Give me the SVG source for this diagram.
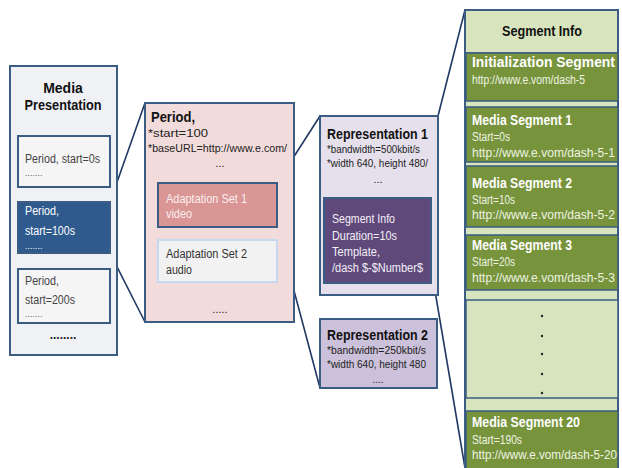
<svg xmlns="http://www.w3.org/2000/svg" width="622" height="468" viewBox="0 0 622 468">
  <style>
    .box { stroke: #3b5d84; stroke-width: 2; }
    .t { font-family: "Liberation Sans", Arial, sans-serif; }
    .b { font-family: "Liberation Sans", Arial, sans-serif; font-weight: bold; }
    .wire { stroke: #203864; stroke-width: 1.6; fill: none; }
    .seg { fill: #77933c; stroke: #3b5d84; stroke-width: 1.5; }
    .segT { font-family: "Liberation Sans", Arial, sans-serif; font-weight: bold; font-size: 14px; fill: #ffffff; }
    .segS { font-family: "Liberation Sans", Arial, sans-serif; font-size: 12.5px; fill: #eef3e2; }
  </style>
  <rect width="622" height="468" fill="#ffffff"/>

  <!-- connectors zooming from one level into the next -->
  <g id="connectors">
    <line class="wire" x1="110" y1="202" x2="145" y2="103"/>
    <line class="wire" x1="110" y1="253" x2="145" y2="322"/>
    <line class="wire" x1="277" y1="183" x2="320" y2="116"/>
    <line class="wire" x1="277" y1="227" x2="320" y2="388"/>
    <line class="wire" x1="438" y1="116" x2="465" y2="10"/>
    <line class="wire" x1="435" y1="291" x2="465" y2="468"/>
  </g>

  <!-- Media Presentation -->
  <g id="media-presentation">
    <rect class="box" x="10" y="66" width="107" height="289" fill="#f0f1f5"/>
    <text class="b" x="63" y="93" font-size="14" text-anchor="middle" fill="#111">Media</text>
    <text class="b" x="63" y="110" font-size="14" text-anchor="middle" fill="#111" textLength="77" lengthAdjust="spacingAndGlyphs">Presentation</text>
    <text class="b" x="63" y="339" font-size="12" text-anchor="middle" fill="#222">........</text>
  </g>
  <g id="period-0">
    <rect class="box" x="18" y="136" width="92" height="51" fill="#f5f5f6"/>
    <text class="t" x="25" y="163" font-size="12" fill="#444" textLength="75" lengthAdjust="spacingAndGlyphs">Period, start=0s</text>
    <text class="t" x="25" y="176" font-size="9" fill="#555">.......</text>
  </g>
  <g id="period-100">
    <rect class="box" x="18" y="202" width="92" height="51" fill="#2e5a8e"/>
    <text class="t" x="25" y="215" font-size="12" fill="#ffffff" textLength="34" lengthAdjust="spacingAndGlyphs">Period,</text>
    <text class="t" x="25" y="235" font-size="12" fill="#ffffff" textLength="50" lengthAdjust="spacingAndGlyphs">start=100s</text>
    <text class="t" x="25" y="249" font-size="9" fill="#ffffff">.......</text>
  </g>
  <g id="period-200">
    <rect class="box" x="18" y="269" width="92" height="54" fill="#f5f5f6"/>
    <text class="t" x="25" y="285" font-size="12" fill="#444" textLength="34" lengthAdjust="spacingAndGlyphs">Period,</text>
    <text class="t" x="25" y="304" font-size="12" fill="#444" textLength="50" lengthAdjust="spacingAndGlyphs">start=200s</text>
    <text class="t" x="25" y="317" font-size="9" fill="#555">.......</text>
  </g>

  <!-- Period detail -->
  <g id="period">
    <rect class="box" x="145" y="103" width="149" height="219" fill="#f2dcdb"/>
    <text class="b" x="151" y="122" font-size="15" fill="#111" textLength="44" lengthAdjust="spacingAndGlyphs">Period,</text>
    <text class="t" x="148" y="137" font-size="10.5" fill="#222" textLength="60" lengthAdjust="spacingAndGlyphs">*start=100</text>
    <text class="t" x="148" y="152" font-size="10.5" fill="#222" textLength="139" lengthAdjust="spacingAndGlyphs">*baseURL=http://www.e.com/</text>
    <text class="t" x="220" y="167" font-size="11" text-anchor="middle" fill="#222">...</text>
    <text class="t" x="220" y="313" font-size="11" text-anchor="middle" fill="#222">.....</text>
  </g>
  <g id="adaptation-set-1">
    <rect class="box" x="158" y="183" width="119" height="44" fill="#d99694"/>
    <text class="t" x="166" y="203" font-size="12" fill="#fbeeee" textLength="81" lengthAdjust="spacingAndGlyphs">Adaptation Set 1</text>
    <text class="t" x="166" y="218" font-size="12" fill="#fbeeee" textLength="26" lengthAdjust="spacingAndGlyphs">video</text>
  </g>
  <g id="adaptation-set-2">
    <rect x="158" y="240" width="119" height="42" fill="#f2f2f2" stroke="#c6d9f1" stroke-width="2"/>
    <text class="t" x="166" y="258" font-size="12" fill="#333" textLength="81" lengthAdjust="spacingAndGlyphs">Adaptation Set 2</text>
    <text class="t" x="166" y="274" font-size="12" fill="#333" textLength="26" lengthAdjust="spacingAndGlyphs">audio</text>
  </g>

  <!-- Representations -->
  <g id="representation-1">
    <rect class="box" x="320" y="116" width="118" height="179" fill="#e6e0ec"/>
    <text class="b" x="327" y="139" font-size="14" fill="#111" textLength="101" lengthAdjust="spacingAndGlyphs">Representation 1</text>
    <text class="t" x="327" y="153" font-size="10.5" fill="#222" textLength="93" lengthAdjust="spacingAndGlyphs">*bandwidth=500kbit/s</text>
    <text class="t" x="327" y="167" font-size="10.5" fill="#222" textLength="101" lengthAdjust="spacingAndGlyphs">*width 640, height 480/</text>
    <text class="t" x="378" y="183" font-size="11" text-anchor="middle" fill="#222">...</text>
  </g>
  <g id="segment-info-template">
    <rect class="box" x="324" y="198" width="107" height="85" fill="#5f497a"/>
    <text class="t" x="332" y="223" font-size="12" fill="#f4eff8" textLength="63" lengthAdjust="spacingAndGlyphs">Segment Info</text>
    <text class="t" x="332" y="240" font-size="12" fill="#f4eff8" textLength="65" lengthAdjust="spacingAndGlyphs">Duration=10s</text>
    <text class="t" x="332" y="256" font-size="12" fill="#f4eff8" textLength="48" lengthAdjust="spacingAndGlyphs">Template,</text>
    <text class="t" x="332" y="272" font-size="12" fill="#f4eff8" textLength="91" lengthAdjust="spacingAndGlyphs">/dash $-$Number$</text>
  </g>
  <g id="representation-2">
    <rect class="box" x="320" y="319" width="117" height="69" fill="#ccc1da"/>
    <text class="b" x="327" y="340" font-size="14" fill="#111" textLength="101" lengthAdjust="spacingAndGlyphs">Representation 2</text>
    <text class="t" x="327" y="354" font-size="10.5" fill="#222" textLength="99" lengthAdjust="spacingAndGlyphs">*bandwidth=250kbit/s</text>
    <text class="t" x="327" y="368" font-size="10.5" fill="#222" textLength="99" lengthAdjust="spacingAndGlyphs">*width 640, height 480</text>
    <text class="t" x="378" y="383" font-size="10" text-anchor="middle" fill="#222">....</text>
  </g>

  <!-- Segment list -->
  <g id="segment-info">
    <rect class="box" x="465" y="10" width="153" height="470" fill="#d7e4bd"/>
    <line x1="465" y1="53" x2="618" y2="53" stroke="#3b5d84" stroke-width="1.5"/>
    <text class="b" x="542" y="36" font-size="14" text-anchor="middle" fill="#111" textLength="80" lengthAdjust="spacingAndGlyphs">Segment Info</text>
  </g>
  <g id="init-segment">
    <rect class="seg" x="466" y="53" width="152" height="48"/>
    <text class="segT" x="472" y="67" textLength="143" lengthAdjust="spacingAndGlyphs">Initialization Segment</text>
    <text class="segS" x="472" y="84" textLength="113" lengthAdjust="spacingAndGlyphs">http://www.e.vom/dash-5</text>
  </g>
  <g id="media-segment-1">
    <rect class="seg" x="466" y="107" width="152" height="55"/>
    <text class="segT" x="472" y="125" textLength="100" lengthAdjust="spacingAndGlyphs">Media Segment 1</text>
    <text class="segS" x="472" y="141" textLength="38" lengthAdjust="spacingAndGlyphs">Start=0s</text>
    <text class="segS" x="472" y="157" textLength="143" lengthAdjust="spacingAndGlyphs">http://www.e.vom/dash-5-1</text>
  </g>
  <g id="media-segment-2">
    <rect class="seg" x="466" y="166" width="152" height="61"/>
    <text class="segT" x="472" y="188" textLength="100" lengthAdjust="spacingAndGlyphs">Media Segment 2</text>
    <text class="segS" x="472" y="204" textLength="43" lengthAdjust="spacingAndGlyphs">Start=10s</text>
    <text class="segS" x="472" y="219" textLength="143" lengthAdjust="spacingAndGlyphs">http://www.e.vom/dash-5-2</text>
  </g>
  <g id="media-segment-3">
    <rect class="seg" x="466" y="235" width="152" height="55"/>
    <text class="segT" x="472" y="250" textLength="100" lengthAdjust="spacingAndGlyphs">Media Segment 3</text>
    <text class="segS" x="472" y="266" textLength="43" lengthAdjust="spacingAndGlyphs">Start=20s</text>
    <text class="segS" x="472" y="282" textLength="143" lengthAdjust="spacingAndGlyphs">http://www.e.vom/dash-5-3</text>
  </g>
  <g id="more-segments">
    <rect x="466" y="300" width="152" height="98" fill="#d7e4bd" stroke="#3b5d84" stroke-width="1.5"/>
    <g fill="#222">
      <circle cx="542" cy="316" r="1.2"/>
      <circle cx="542" cy="336" r="1.2"/>
      <circle cx="542" cy="354" r="1.2"/>
      <circle cx="542" cy="374" r="1.2"/>
      <circle cx="542" cy="393" r="1.2"/>
    </g>
  </g>
  <g id="media-segment-20">
    <rect class="seg" x="466" y="411" width="152" height="60"/>
    <text class="segT" x="472" y="427" textLength="108" lengthAdjust="spacingAndGlyphs">Media Segment 20</text>
    <text class="segS" x="472" y="444" textLength="50" lengthAdjust="spacingAndGlyphs">Start=190s</text>
    <text class="segS" x="472" y="459" font-size="12px" textLength="145" lengthAdjust="spacingAndGlyphs">http://www.e.vom/dash-5-20</text>
  </g>
</svg>
